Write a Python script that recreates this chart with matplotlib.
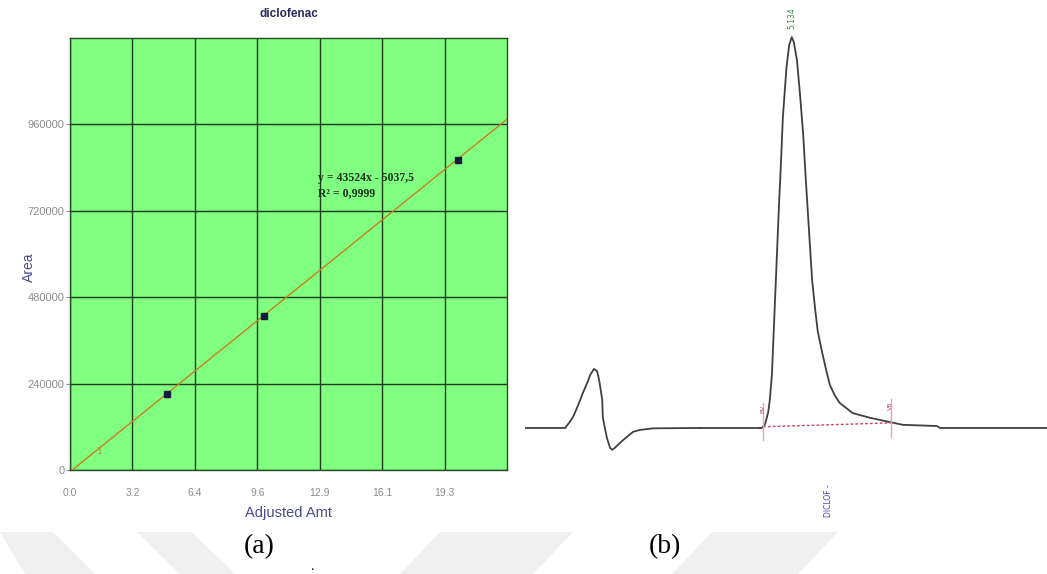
import numpy as np
import matplotlib
matplotlib.use("Agg")
import matplotlib.pyplot as plt
from matplotlib.patches import Polygon

# (a) calibration curve
amounts = [5.0, 10.0, 20.0]
areas = [212000, 428000, 862000]
slope, intercept = 43524, -5037.5
x_ticks = [0.0, 3.2, 6.4, 9.6, 12.9, 16.1, 19.3]
y_ticks = [0, 240000, 480000, 720000, 960000]

# (b) chromatogram, time (min) / signal
t_first = [0.00, 0.77, 0.86, 0.92, 1.02, 1.11, 1.19, 1.25, 1.32, 1.38, 1.42,
           1.48, 1.49, 1.53, 1.57, 1.63, 1.67, 1.72, 1.82, 1.95, 2.07, 2.20,
           2.45, 3.35]
s_first = [0, 0, 16, 28, 59, 90, 115, 136, 151, 146, 123, 72, 28, 0, -26,
           -51, -56, -51, -38, -23, -10, -5, -1, 0]
t_main = [4.50, 4.54, 4.60, 4.66, 4.69, 4.73, 4.75, 4.79, 4.83, 4.87, 4.90,
          4.94, 5.01, 5.06, 5.11, 5.15, 5.21, 5.27, 5.33, 5.38, 5.44, 5.50,
          5.56, 5.61, 5.69, 5.77, 5.84, 5.94, 6.03, 6.28, 6.61, 6.99, 7.24,
          7.89, 7.95, 10.00]
s_main = [0, 0, 10, 41, 72, 136, 200, 328, 456, 584, 668, 796, 924, 980,
          1001, 988, 942, 852, 750, 635, 507, 379, 302, 246, 195, 148, 110,
          82, 64, 38, 26, 15, 8, 5, 0, 0]
peak_rt = "5.134"
base_start = (4.56, 3)
base_end = (7.01, 13)

W, H = 1047, 574
fig = plt.figure(figsize=(W / 100, H / 100), dpi=100)

# watermark bands at the bottom
bands = [
    [(0, 532), (53, 532), (95, 574), (25, 574)],
    [(137, 532), (192, 532), (235, 574), (180, 574)],
    [(440, 532), (573, 532), (533, 574), (400, 574)],
    [(712, 532), (838, 532), (798, 574), (672, 574)],
]
for b in bands:
    pts = [(x / W, 1 - y / H) for x, y in b]
    fig.patches.append(Polygon(pts, closed=True, transform=fig.transFigure,
                               facecolor="#f0f0f0", edgecolor="none", zorder=0))

ax = fig.add_axes([70 / W, 1 - 470 / H, 437 / W, 432 / H])
ax.set_facecolor("#80ff80")
ax.set_xlim(0, 22.5)
ax.set_ylim(0, 1200000)
xt = [i * 22.5 / 7 for i in range(7)]
ax.set_xticks(xt)
ax.set_xticklabels([f"{v:.1f}" for v in x_ticks])
ax.set_yticks(y_ticks)
ax.set_yticklabels([str(v) for v in y_ticks])
ax.tick_params(axis="x", length=0, pad=13, labelsize=7.5, labelcolor="#8c8c8c")
ax.tick_params(axis="y", length=3, pad=1, labelsize=8, labelcolor="#8c8c8c",
               color="#8c8c8c")
ax.grid(True, color="#1e3d1e", lw=1.0)
ax.set_axisbelow(True)
for sp in ax.spines.values():
    sp.set_color("#2a4a2a")
    sp.set_linewidth(1.0)

xl = np.array([0, 22.5])
ax.plot(xl, slope * xl + intercept, color="#c8801e", lw=1.0, zorder=3)
ax.plot(amounts, areas, "s", color="#141a40", ms=4.5, zorder=4)
ax.text(1.55, 50000, "1", color="#a09020", fontsize=6.5, ha="center", va="center")
ax.text(0.5675, 0.676, "y = 43524x - 5037,5", transform=ax.transAxes,
        family="Liberation Serif", fontweight="bold", fontsize=8.5,
        color="#1a301a", va="center")
ax.text(0.5675, 0.641, "R\u00b2 = 0,9999", transform=ax.transAxes,
        family="Liberation Serif", fontweight="bold", fontsize=8.5,
        color="#1a301a", va="center")

ax.set_title("diclofenac", fontsize=8.5, fontweight="bold", color="#2a2a5a",
             family="Liberation Sans", pad=15)
ax.set_xlabel("Adjusted Amt", fontsize=10.5, color="#4a4a8a",
              family="Liberation Sans", labelpad=6)
ax.set_ylabel("Area", fontsize=10, color="#4a4a8a", family="Liberation Sans")
ax.yaxis.set_label_coords(-0.078, 0.47)
for lab in ax.get_xticklabels() + ax.get_yticklabels():
    lab.set_family("Liberation Sans")

# chromatogram
ax2 = fig.add_axes([525 / W, 0, 522 / W, 1])
ax2.axis("off")
ax2.set_xlim(0, 10)
ax2.set_ylim(-374, 1096)
ax2.plot(t_first, s_first, color="#404040", lw=1.3)
ax2.plot([t_first[-1], t_main[0]], [s_first[-1], s_main[0]], color="#404040", lw=1.3)
ax2.plot(t_main, s_main, color="#404040", lw=1.3)
ax2.plot([base_start[0], base_end[0]], [base_start[1], base_end[1]],
         color="#d04060", lw=1.0, ls=(0, (2, 1.5)))
for (bt, bs), lab in [(base_start, "BV"), (base_end, "VB")]:
    ax2.plot([bt, bt], [bs - 35, bs + 60], color="#f0a0b8", lw=1.0)
    ax2.text(bt, bs + 45, lab, rotation=90, fontsize=4.5, color="#c05070",
             ha="center", va="center")
i_peak = int(np.argmax(s_main))
ax2.annotate(peak_rt, (t_main[i_peak], s_main[i_peak]), xytext=(0, 14),
             textcoords="offset points", rotation=90, fontsize=5.5,
             color="#3c8c3c", ha="center", va="center")
ax2.text(5.82, -185, "DICLOF -", rotation=90, fontsize=5.5, color="#4848a8",
         ha="center", va="center")

fig.text(259 / W, 1 - 547 / H, "(a)", fontsize=20, family="Liberation Serif",
         ha="center", va="center")
fig.text(665 / W, 1 - 547 / H, "(b)", fontsize=20, family="Liberation Serif",
         ha="center", va="center")
fig.text(312 / W, 1 - 566 / H, ".", fontsize=10, family="Liberation Serif",
         ha="center", va="center")

fig.savefig("out.png", dpi=100)
